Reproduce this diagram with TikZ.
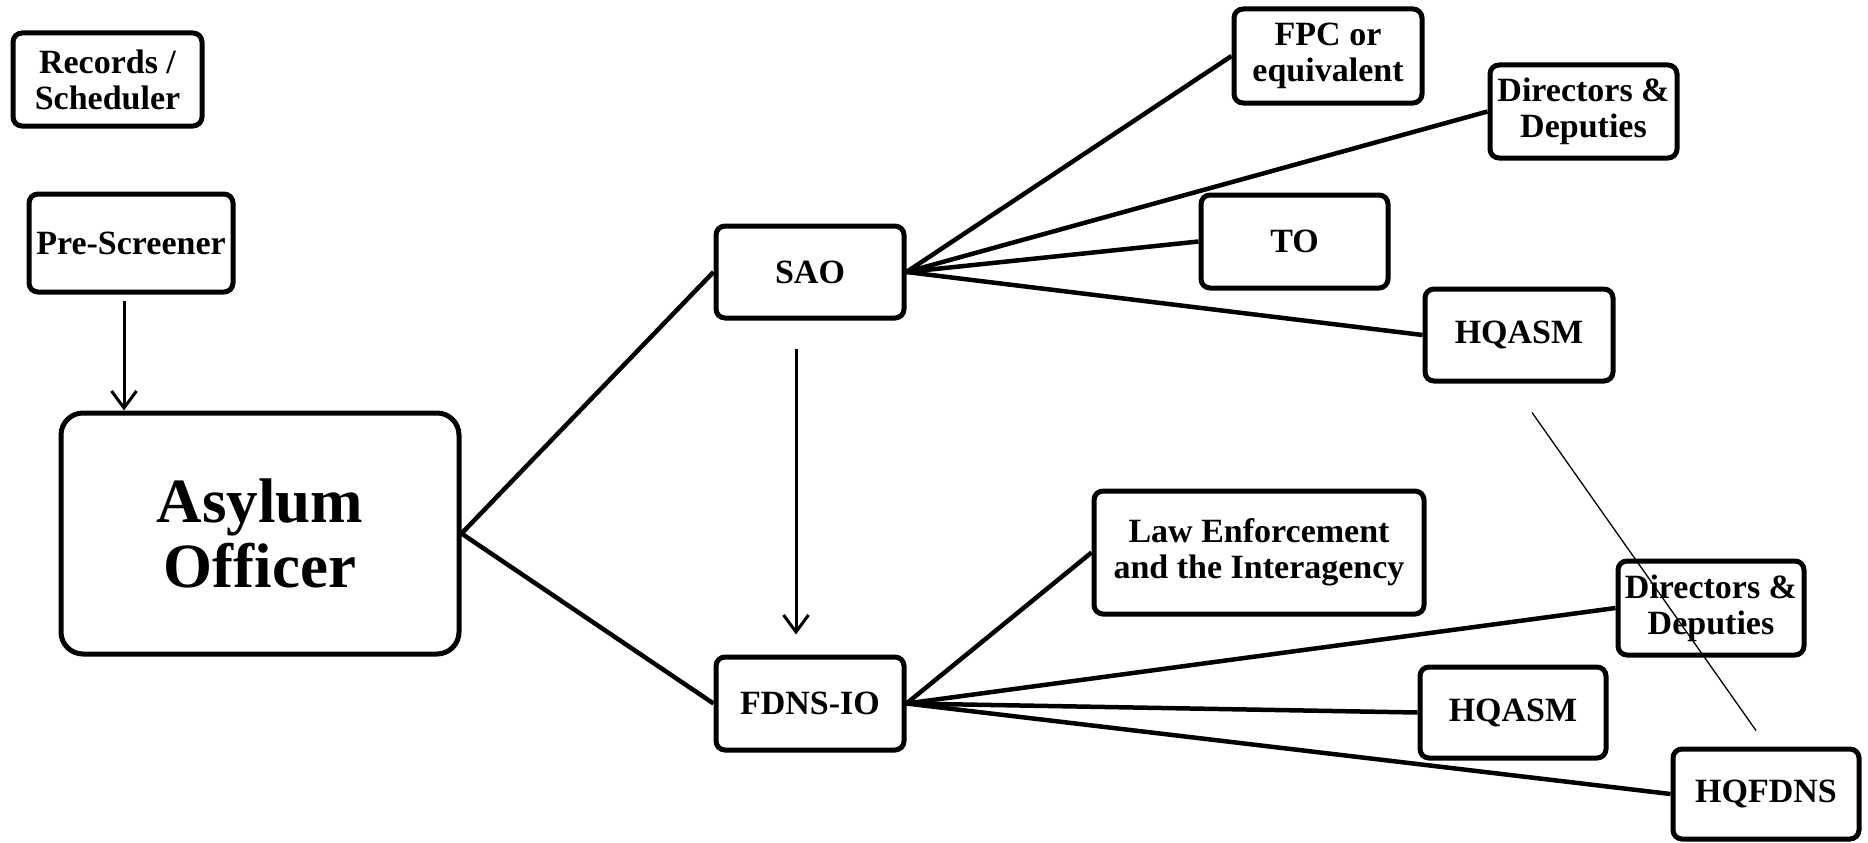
\documentclass[tikz,border=0pt]{standalone}
\usepackage{fontspec}
\setmainfont{Liberation Serif}
\usetikzlibrary{arrows.meta}
\begin{document}
\begin{tikzpicture}[x=1pt,y=-1pt,
  box/.style={draw, line width=5pt, rounded corners=9pt, align=center, inner sep=0pt,
    minimum width=188pt, minimum height=92pt, font=\bfseries\fontsize{34}{36}\selectfont},
  link/.style={line width=4.5pt},
  arr/.style={line width=3pt, -{Straight Barb[length=17pt,width=25pt]}},
  thinline/.style={line width=1.3pt}]
\useasboundingbox (0,0) rectangle (1868,843);
\fill[white] (0,0) rectangle (1868,843);
% left column
\node[box, minimum width=189pt, minimum height=93pt] (Rec) at (107.5,79.5) {Records /\\Scheduler};
\node[box, minimum width=204pt, minimum height=98pt] (Pre) at (131,243) {Pre-Screener};
\node[box, minimum width=398pt, minimum height=241pt, rounded corners=22pt,
  font=\bfseries\fontsize{63}{65}\selectfont] (AO) at (260,533.5) {Asylum\\Officer};
% middle
\node[box] (SAO) at (810,272) {SAO};
\node[box, minimum height=93pt] (FDNS) at (810,703.5) {FDNS-IO};
% SAO targets
\node[box, minimum height=94pt] (FPC) at (1328,56) {FPC or\\equivalent};
\node[box, minimum width=187pt, minimum height=93pt] (DirA) at (1583.5,111.5) {Directors \&\\Deputies};
\node[box, minimum width=187pt, minimum height=93pt] (TO) at (1294.5,241.5) {TO};
\node[box] (HQA) at (1519,335) {HQASM};
% FDNS targets
\node[box, minimum width=330pt, minimum height=123pt] (LE) at (1259,552.5) {Law Enforcement\\and the Interagency};
\node[box, minimum width=186pt, minimum height=94pt] (DirB) at (1711,608) {Directors \&\\Deputies};
\node[box, minimum width=186pt, minimum height=91pt] (HQB) at (1513,712.5) {HQASM};
\node[box, minimum width=186pt, minimum height=90pt] (HQF) at (1766,794) {HQFDNS};
% arrows
\draw[arr] ([xshift=-7pt,yshift=-6pt]Pre.south) -- ([xshift=-7pt]Pre.south |- AO.north);
\draw[arr] ([xshift=-14pt,yshift=-28pt]SAO.south) -- ([xshift=-14pt,yshift=20pt]FDNS.north);
% links
\draw[link] (AO.east) -- (SAO.west);
\draw[link] (AO.east) -- (FDNS.west);
\draw[link] (SAO.east) -- (FPC.west);
\draw[link] (SAO.east) -- (DirA.west);
\draw[link] (SAO.east) -- (TO.west);
\draw[link] (SAO.east) -- (HQA.west);
\draw[link] (FDNS.east) -- (LE.west);
\draw[link] (FDNS.east) -- (DirB.west);
\draw[link] (FDNS.east) -- (HQB.west);
\draw[link] (FDNS.east) -- (HQF.west);
% thin diagonal
\coordinate (dA) at ([xshift=13pt,yshift=-29pt]HQA.south);
\coordinate (dB) at ([xshift=-10pt,yshift=16pt]HQF.north);
\draw[thinline] (dA) -- (dB);
\end{tikzpicture}
\end{document}
